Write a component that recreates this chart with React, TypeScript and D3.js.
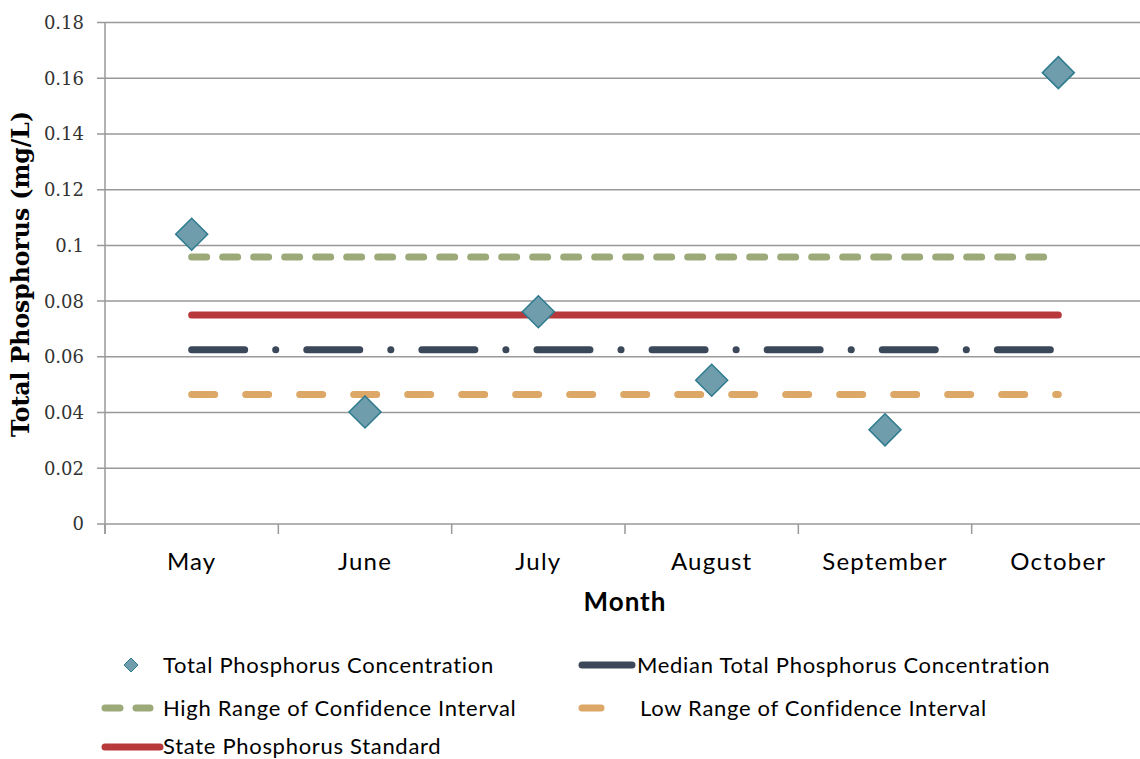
import React from "react";
import * as d3 from "d3";

const months = ["May", "June", "July", "August", "September", "October"];
const concentration = [0.104, 0.0402, 0.0762, 0.0516, 0.0338, 0.162];
const median = [0.0625, 0.0625, 0.0625, 0.0625, 0.0625, 0.0625];
const highCI = [0.0958, 0.0958, 0.0958, 0.0958, 0.0958, 0.0958];
const lowCI = [0.0465, 0.0465, 0.0465, 0.0465, 0.0465, 0.0465];
const stateStandard = [0.075, 0.075, 0.075, 0.075, 0.075, 0.075];
const yTicks = [0, 0.02, 0.04, 0.06, 0.08, 0.1, 0.12, 0.14, 0.16, 0.18];

const W = 1140, H = 759;
const left = 105, right = 1145, top = 22.5, bottom = 524;

const serif = "'DejaVu Serif', serif";
const sans = "Lato, 'Open Sans', sans-serif";

const lineSeries = [
  { name: "High Range of Confidence Interval", values: highCI, color: "#9ca979", dash: "15,16" },
  { name: "State Phosphorus Standard", values: stateStandard, color: "#b8393c", dash: null },
  { name: "Median Total Phosphorus Concentration", values: median, color: "#3b4859", dash: "53,31,0.1,31" },
  { name: "Low Range of Confidence Interval", values: lowCI, color: "#dda768", dash: "23,31" },
];

function diamond(cx: number, cy: number, r: number) {
  return `M${cx},${cy - r}L${cx + r},${cy}L${cx},${cy + r}L${cx - r},${cy}Z`;
}

export default function App() {
  const x = d3.scaleBand<string>().domain(months).range([left, right]);
  const y = d3.scaleLinear().domain([0, 0.18]).range([bottom, top]);
  const cx = (m: string) => (x(m) as number) + x.bandwidth() / 2;
  const line = d3.line<number>()
    .x((_, i) => cx(months[i]))
    .y((d) => y(d));
  const fmt = (v: number) => String(+v.toFixed(2));
  const bandEdges = months.map((m) => x(m) as number).concat([right]);

  return (
    <svg width={W} height={H} style={{ position: "absolute", left: 0, top: 0, background: "#fff" }}>
      {/* gridlines */}
      {yTicks.map((t) => (
        <g key={t}>
          <line x1={97} x2={right} y1={y(t)} y2={y(t)} stroke="#999" strokeWidth={1.5} />
          <text x={84} y={y(t)} dy="0.36em" textAnchor="end" fontFamily={serif} fontSize={18} fill="#333">
            {fmt(t)}
          </text>
        </g>
      ))}
      <line x1={left} x2={left} y1={top} y2={bottom + 10} stroke="#999" strokeWidth={1.5} />
      {bandEdges.map((e, i) => (
        <line key={i} x1={e} x2={e} y1={bottom} y2={bottom + 10} stroke="#999" strokeWidth={1.5} />
      ))}
      {months.map((m) => (
        <text key={m} x={cx(m)} y={570} textAnchor="middle" fontFamily={sans} fontSize={24} letterSpacing={1.2} fill="#000">
          {m}
        </text>
      ))}
      <text x={625} y={611} textAnchor="middle" fontFamily={sans} fontSize={26} letterSpacing={1} fontWeight="bold">Month</text>
      <text transform="translate(29,274) rotate(-90)" textAnchor="middle" fontFamily={serif} fontSize={23.5} fontWeight="bold">
        Total Phosphorus (mg/L)
      </text>

      {lineSeries.map((s) => (
        <path key={s.name} d={line(s.values) as string} fill="none" stroke={s.color} strokeWidth={7}
          strokeLinecap="round" strokeDasharray={s.dash ?? undefined} />
      ))}

      {concentration.map((v, i) => (
        <path key={i} d={diamond(cx(months[i]), y(v), 16)} fill="#6f9dab" stroke="#2e7b8f" strokeWidth={1.5} />
      ))}

      {/* legend */}
      <g fontFamily={sans} fontSize={22} letterSpacing={0.7} fill="#000">
        <path d={diamond(131, 665, 7)} fill="#6f9dab" stroke="#2e7b8f" strokeWidth={1} />
        <text x={163} y={665} dy="0.35em">Total Phosphorus Concentration</text>

        <line x1={582} x2={632} y1={665} y2={665} stroke="#3b4859" strokeWidth={7} strokeLinecap="round" />
        <text x={637} y={665} dy="0.35em">Median Total Phosphorus Concentration</text>

        <line x1={105} x2={150} y1={708} y2={708} stroke="#9ca979" strokeWidth={7} strokeLinecap="round" strokeDasharray="15,16" />
        <text x={163} y={708} dy="0.35em">High Range of Confidence Interval</text>

        <line x1={582} x2={601} y1={708} y2={708} stroke="#dda768" strokeWidth={7} strokeLinecap="round" />
        <text x={640} y={708} dy="0.35em">Low Range of Confidence Interval</text>

        <line x1={105} x2={160} y1={747} y2={747} stroke="#b8393c" strokeWidth={7} strokeLinecap="round" />
        <text x={163} y={747} dy="0.33em">State Phosphorus Standard</text>
      </g>
    </svg>
  );
}
